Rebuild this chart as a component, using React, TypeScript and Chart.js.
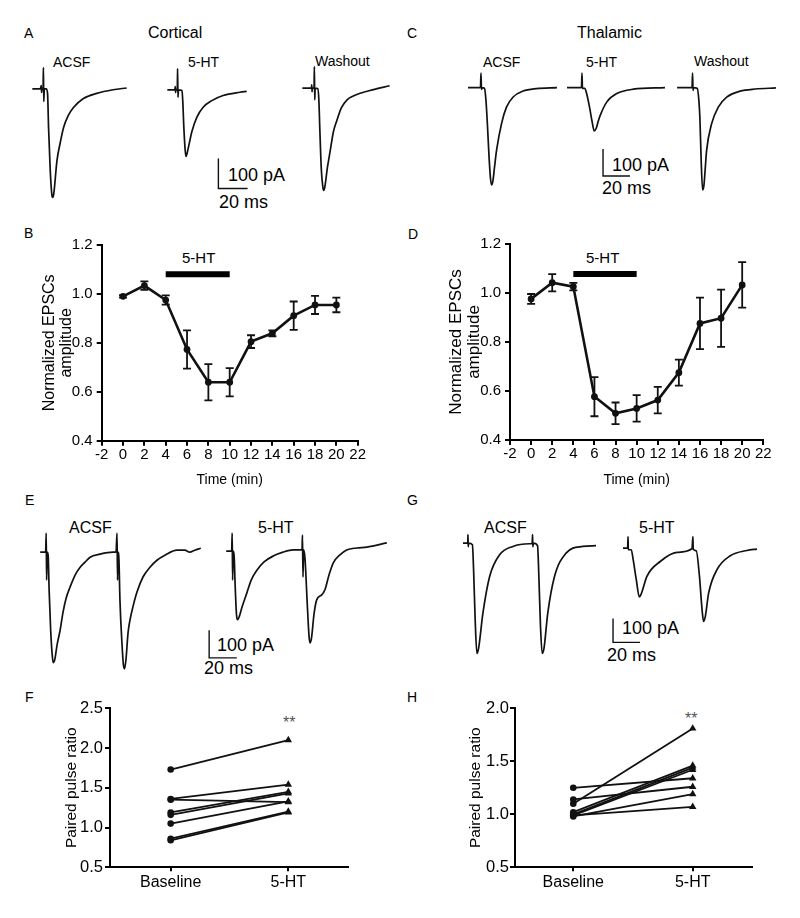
import React, { useEffect, useRef } from 'react';
import { Chart, registerables } from 'chart.js';

Chart.register(...registerables);
const FONT = "'Liberation Sans', Arial, Helvetica, sans-serif";
Chart.defaults.font.family = FONT;
Chart.defaults.color = '#000';

type P = [number, number];

// ---------------- DATA ----------------
// Example traces: [time (ms) from sweep start, current (pA) relative to baseline]
const corticalACSF: P[] = [[0,0],[5.52,0],[6.21,11],[6.41,-12],[6.62,0],[7.45,0],[7.66,71],[7.93,-42],[8.28,0],[9.66,0],[10.55,-16],[11.24,-129],[12.41,-272],[13.45,-349],[14.0,-361],[14.83,-349],[17.03,-239],[19.31,-179],[21.59,-129],[24.83,-89],[28.48,-62],[35.38,-32],[44.62,-15],[55.86,-3],[65.31,3]];
const cortical5HT: P[] = [[0,0],[5.17,0],[5.52,11],[5.72,-9],[5.93,0],[6.9,0],[7.1,71],[7.38,-25],[7.72,0],[10.14,-2],[10.69,-36],[11.38,-119],[12.28,-196],[12.9,-222],[13.66,-212],[15.17,-179],[17.03,-139],[20.48,-91],[24.83,-58],[30.83,-36],[38.62,-19],[50.34,-8],[54.97,-5]];
const corticalWashout: P[] = [[0,0],[6.21,0],[6.48,11],[6.69,-12],[6.9,0],[8.07,0],[8.28,72],[8.55,-39],[8.83,0],[10.69,-2],[11.38,-39],[12.07,-139],[13.1,-272],[14.14,-329],[14.69,-341],[15.52,-329],[17.24,-266],[19.31,-206],[21.38,-146],[23.93,-106],[26.9,-66],[30.83,-39],[35.17,-26],[40,-17],[48.28,-6],[60.21,8]];

const thalamicACSF: P[] = [[0,0],[9.26,0],[9.63,54],[10,-7],[10.37,0],[12.22,-3],[13.33,-47],[14.44,-140],[15.56,-251],[16.67,-336],[17.56,-362],[18.52,-347],[19.63,-299],[21.26,-232],[24.96,-133],[28.67,-72],[33.56,-35],[40.96,-13],[50.89,-4],[66.15,0]];
const thalamic5HT: P[] = [[0,0],[10.74,0],[11.11,54],[11.48,-3],[13.19,-3],[15.04,-32],[16.89,-77],[18.74,-129],[20.22,-161],[21.7,-151],[23.19,-125],[24.67,-103],[29.63,-53],[37.04,-22],[49.33,-6],[72.81,0]];
const thalamicWashout: P[] = [[0,0],[11.04,0],[11.41,54],[11.78,-10],[12.15,0],[14.96,-3],[16.07,-47],[16.81,-109],[17.78,-269],[18.81,-378],[19.78,-362],[20.67,-306],[21.78,-232],[25.48,-133],[30.37,-72],[36.59,-35],[46.44,-13],[57.56,-5],[72.89,-1]];

const corticalPairACSF: P[] = [[0,0],[2.9,0],[3.9,0],[4.3,68],[4.6,-100],[5.0,0],[5.7,-11],[6.4,-136],[7.5,-279],[8.6,-368],[9.3,-396],[10.4,-386],[12.1,-332],[14.3,-279],[16.4,-214],[18.6,-164],[21.4,-125],[25.0,-82],[28.6,-54],[32.1,-36],[35.7,-18],[42.9,-7],[52.1,0],[54.3,0],[55.0,68],[55.4,-100],[55.7,0],[56.4,-29],[57.1,-171],[58.6,-332],[59.6,-404],[60.4,-418],[61.4,-386],[62.9,-289],[64.3,-243],[66.4,-196],[69.3,-143],[73.6,-89],[78.6,-54],[83.6,-29],[89.3,-11],[97.9,7],[103.6,7],[107.1,0],[110.7,7],[115,14]];
const corticalPair5HT: P[] = [[0,0],[2.9,0],[3.9,0],[4.3,64],[4.6,-104],[5.0,0],[5.7,-18],[6.4,-121],[7.4,-229],[8.1,-246],[9.3,-236],[11.4,-200],[14.8,-150],[17.9,-104],[22.1,-68],[27.1,-39],[33.6,-18],[40.7,-4],[47.9,4],[54.3,4],[54.6,57],[55,-93],[55.4,4],[56.4,-25],[57.9,-175],[59.3,-304],[60,-329],[61.1,-311],[62.9,-225],[64.8,-175],[68.4,-157],[70.7,-139],[73.6,-86],[76.6,-43],[81.4,-14],[86.2,4],[93.6,11],[100.7,14],[115,29]];

const thalamicPairACSF: P[] = [[0,0],[2.8,0],[3.6,0],[3.75,35],[3.95,-15],[4.3,0],[7.1,-7],[8.0,-111],[9.2,-320],[10.5,-458],[11.8,-436],[15.0,-292],[20.1,-139],[27.6,-49],[37.6,-14],[50.2,-3],[52.2,0],[52.45,35],[52.65,-15],[53.2,0],[56.2,-11],[57.3,-153],[58.4,-340],[59.7,-458],[61.1,-436],[63.9,-292],[69.0,-139],[77.7,-42],[90.2,-14],[100.3,-11]];
const thalamicPair5HT: P[] = [[0,0],[3.5,0],[3.8,48],[4.0,-7],[6.2,-7],[7.7,-49],[10.0,-132],[12.3,-204],[13.8,-190],[18.0,-118],[28.0,-56],[40.6,-18],[51.9,-3],[52.6,48],[52.8,-3],[55.1,-11],[57.4,-111],[59.6,-265],[60.6,-306],[61.9,-286],[64.4,-188],[70.7,-90],[80.7,-32],[93.2,-10],[100.8,-4]];

// scale bar values
const SCALE_MS = 20;
const SCALE_PA = 100;
const scaleBar: P[] = [[0, SCALE_PA], [0, 0], [SCALE_MS, 0]];

// Time course (normalized EPSC amplitude)
const timeMin = [0, 2, 4, 6, 8, 10, 12, 14, 16, 18, 20];
const corticalMean = [0.99, 1.034, 0.975, 0.773, 0.639, 0.639, 0.805, 0.839, 0.911, 0.955, 0.955];
const corticalSem = [0.005, 0.017, 0.019, 0.078, 0.074, 0.058, 0.026, 0.012, 0.058, 0.037, 0.03];
const thalamicMean = [0.976, 1.042, 1.026, 0.577, 0.509, 0.529, 0.563, 0.675, 0.876, 0.897, 1.033];
const thalamicSem = [0.02, 0.035, 0.015, 0.08, 0.044, 0.054, 0.054, 0.053, 0.105, 0.117, 0.093];
const drugWindow = [4, 10];
const corticalDrugBar = 1.08;
const thalamicDrugBar = 1.078;
const timeAxis = { min: -2, max: 22, step: 2 };
const ampAxis = { min: 0.4, max: 1.2, step: 0.2 };

// Paired pulse ratio
const pprCategories = ['Baseline', '5-HT'];
const corticalPPRBaseline = [1.73, 1.36, 1.35, 1.19, 1.16, 1.05, 0.86, 0.84];
const corticalPPR5HT = [2.10, 1.54, 1.32, 1.45, 1.43, 1.33, 1.20, 1.19];
const thalamicPPRBaseline = [1.25, 1.14, 1.10, 1.02, 1.00, 0.99, 0.98, 0.99];
const thalamicPPR5HT = [1.34, 1.26, 1.81, 1.46, 1.44, 1.42, 1.19, 1.07];

// ---------------- COMPONENTS ----------------
const INK = '#111';

function TraceChart({ pts, ox, oy, sx, sy, lw = 1.7, smooth = true }: { pts: P[]; ox: number; oy: number; sx: number; sy: number; lw?: number; smooth?: boolean }) {
  const ref = useRef<HTMLCanvasElement>(null);
  const xs = pts.map((p) => p[0]);
  const ys = pts.map((p) => p[1]);
  const xMin = Math.min(...xs) - 3;
  const xMax = Math.max(...xs) + 3;
  const yMin = Math.min(...ys) - 15;
  const yMax = Math.max(...ys) + 15;
  const w = Math.round((xMax - xMin) * sx);
  const h = Math.round((yMax - yMin) * sy);
  const left = ox + xMin * sx;
  const top = oy - yMax * sy;
  useEffect(() => {
    const chart = new Chart(ref.current as HTMLCanvasElement, {
      type: 'scatter',
      data: {
        datasets: [
          {
            data: pts.map(([x, y]) => ({ x, y })),
            showLine: true,
            borderColor: INK,
            borderWidth: lw,
            pointRadius: 0,
            cubicInterpolationMode: smooth ? 'monotone' : 'default',
            tension: 0,
            clip: false as any,
          } as any,
        ],
      },
      options: {
        animation: false,
        responsive: false,
        events: [],
        layout: { padding: 0 },
        plugins: { legend: { display: false }, tooltip: { enabled: false } },
        scales: {
          x: { type: 'linear', display: false, min: xMin, max: xMax },
          y: { type: 'linear', display: false, min: yMin, max: yMax },
        },
      },
    });
    return () => chart.destroy();
  }, []);
  return <canvas ref={ref} width={w} height={h} style={{ position: 'absolute', left, top, width: w, height: h }} />;
}

type Rect = { left: number; top: number; width: number; height: number };
type Area = { left: number; top: number; right: number; bottom: number };

const axisGrid = (tickLength: number) => ({
  display: true,
  drawOnChartArea: false,
  drawTicks: true,
  tickLength,
  color: '#000',
  lineWidth: 2,
});
const axisBorder = { display: true, color: '#000', width: 2 };

function TimeCourseChart({ cv, area, titleLeft, xAxisH, means, sems, barLevel, yTitleSize }: { cv: Rect; area: Area; titleLeft: number; xAxisH: number; means: number[]; sems: number[]; barLevel: number; yTitleSize: number }) {
  const ref = useRef<HTMLCanvasElement>(null);
  useEffect(() => {
    const padding = {
      left: titleLeft - cv.left,
      top: area.top - cv.top,
      right: cv.left + cv.width - area.right,
      bottom: cv.top + cv.height - area.bottom - xAxisH,
    };
    const yW = area.left - titleLeft;
    const errorBars = {
      id: 'errorBars',
      afterDatasetsDraw(chart: any) {
        const xs = chart.scales.x;
        const ys = chart.scales.y;
        const ctx = chart.ctx as CanvasRenderingContext2D;
        ctx.save();
        ctx.strokeStyle = INK;
        ctx.lineWidth = 1.8;
        timeMin.forEach((t, i) => {
          const x = xs.getPixelForValue(t);
          const y1 = ys.getPixelForValue(means[i] + sems[i]);
          const y2 = ys.getPixelForValue(means[i] - sems[i]);
          ctx.beginPath();
          ctx.moveTo(x, y1);
          ctx.lineTo(x, y2);
          ctx.moveTo(x - 4, y1);
          ctx.lineTo(x + 4, y1);
          ctx.moveTo(x - 4, y2);
          ctx.lineTo(x + 4, y2);
          ctx.stroke();
        });
        ctx.restore();
      },
    };
    const chart = new Chart(ref.current as HTMLCanvasElement, {
      type: 'scatter',
      data: {
        datasets: [
          {
            data: timeMin.map((t, i) => ({ x: t, y: means[i] })),
            showLine: true,
            borderColor: INK,
            backgroundColor: INK,
            borderWidth: 2.6,
            pointRadius: 3.4,
            pointBorderWidth: 0,
            pointBackgroundColor: INK,
          },
          {
            data: drugWindow.map((t) => ({ x: t, y: barLevel })),
            showLine: true,
            borderColor: '#000',
            borderWidth: 6,
            pointRadius: 0,
            borderCapStyle: 'butt',
          } as any,
        ],
      },
      options: {
        animation: false,
        responsive: false,
        events: [],
        layout: { padding },
        plugins: { legend: { display: false }, tooltip: { enabled: false } },
        scales: {
          x: {
            type: 'linear',
            min: timeAxis.min,
            max: timeAxis.max,
            ticks: { stepSize: timeAxis.step, font: { size: 15 }, color: '#000', padding: 0, maxRotation: 0, autoSkip: false, callback: (v: any) => String(v) },
            grid: axisGrid(5) as any,
            border: axisBorder,
            title: { display: true, text: 'Time (min)', font: { size: 14 }, color: '#000', padding: { top: 0, bottom: 0 } },
            afterFit: (s: any) => { s.height = xAxisH; },
          },
          y: {
            type: 'linear',
            min: ampAxis.min,
            max: ampAxis.max,
            ticks: { stepSize: ampAxis.step, font: { size: 15 }, color: '#000', padding: 4, callback: (v: any) => Number(v).toFixed(1) },
            grid: axisGrid(5) as any,
            border: axisBorder,
            title: { display: true, text: ['Normalized EPSCs', 'amplitude'], font: { size: yTitleSize, lineHeight: 1.08 }, color: '#000', padding: { top: 0, bottom: 0 } },
            afterFit: (s: any) => { s.width = yW; },
          },
        },
      },
      plugins: [errorBars],
    });
    return () => chart.destroy();
  }, []);
  return <canvas ref={ref} width={cv.width} height={cv.height} style={{ position: 'absolute', left: cv.left, top: cv.top, width: cv.width, height: cv.height }} />;
}

function PPRChart({ cv, area, titleLeft, xAxisH, base, drug, yMax, xMin, xMax, yTickPad }: { cv: Rect; area: Area; titleLeft: number; xAxisH: number; base: number[]; drug: number[]; yMax: number; xMin: number; xMax: number; yTickPad: number }) {
  const ref = useRef<HTMLCanvasElement>(null);
  useEffect(() => {
    const padding = {
      left: titleLeft - cv.left,
      top: area.top - cv.top,
      right: cv.left + cv.width - area.right,
      bottom: cv.top + cv.height - area.bottom - xAxisH,
    };
    const yW = area.left - titleLeft;
    const chart = new Chart(ref.current as HTMLCanvasElement, {
      type: 'scatter',
      data: {
        datasets: base.map((b, i) => ({
          data: [{ x: 0, y: b }, { x: 1, y: drug[i] }],
          showLine: true,
          borderColor: INK,
          borderWidth: 1.8,
          pointStyle: ['circle', 'triangle'] as any,
          pointRadius: [3.3, 4.3] as any,
          pointBorderWidth: 0,
          pointBackgroundColor: INK,
          clip: false as any,
        })) as any,
      },
      options: {
        animation: false,
        responsive: false,
        events: [],
        layout: { padding },
        plugins: { legend: { display: false }, tooltip: { enabled: false } },
        scales: {
          x: {
            type: 'linear',
            min: xMin,
            max: xMax,
            afterBuildTicks: (s: any) => { s.ticks = [{ value: 0 }, { value: 1 }]; },
            ticks: { font: { size: 16 }, color: '#000', padding: 2, maxRotation: 0, autoSkip: false, callback: (v: any) => pprCategories[Math.round(Number(v))] ?? '' },
            grid: axisGrid(4) as any,
            border: axisBorder,
            afterFit: (s: any) => { s.height = xAxisH; },
          },
          y: {
            type: 'linear',
            min: 0.5,
            max: yMax,
            ticks: { stepSize: 0.5, font: { size: 16.5 }, color: '#000', padding: yTickPad, callback: (v: any) => Number(v).toFixed(1) },
            grid: axisGrid(5) as any,
            border: axisBorder,
            title: { display: true, text: 'Paired pulse ratio', font: { size: 15.5 }, color: '#000', padding: { top: 0, bottom: 0 } },
            afterFit: (s: any) => { s.width = yW; },
          },
        },
      },
    });
    return () => chart.destroy();
  }, []);
  return <canvas ref={ref} width={cv.width} height={cv.height} style={{ position: 'absolute', left: cv.left, top: cv.top, width: cv.width, height: cv.height }} />;
}

type Lbl = { t: string; x: number; y: number; s: number; c?: string };
const labels: Lbl[] = [
  { t: 'A', x: 24, y: 26, s: 14 },
  { t: 'Cortical', x: 148, y: 25, s: 16 },
  { t: 'ACSF', x: 53, y: 55, s: 14 },
  { t: '5-HT', x: 188, y: 55, s: 14 },
  { t: 'Washout', x: 315, y: 54, s: 14 },
  { t: '100 pA', x: 228, y: 166, s: 18 },
  { t: '20 ms', x: 219, y: 192.7, s: 18 },
  { t: 'C', x: 407, y: 26, s: 14 },
  { t: 'Thalamic', x: 577, y: 25, s: 16 },
  { t: 'ACSF', x: 483, y: 55, s: 14 },
  { t: '5-HT', x: 586, y: 55, s: 14 },
  { t: 'Washout', x: 694, y: 54, s: 14 },
  { t: '100 pA', x: 612, y: 156, s: 18 },
  { t: '20 ms', x: 602, y: 179.4, s: 18 },
  { t: 'B', x: 24, y: 226, s: 14 },
  { t: '5-HT', x: 182, y: 249.7, s: 15 },
  { t: 'D', x: 408, y: 227, s: 14 },
  { t: '5-HT', x: 586, y: 249.7, s: 15 },
  { t: 'E', x: 25, y: 493, s: 14 },
  { t: 'ACSF', x: 69, y: 520, s: 16 },
  { t: '5-HT', x: 258, y: 520, s: 16 },
  { t: '100 pA', x: 217, y: 636, s: 18 },
  { t: '20 ms', x: 204, y: 659.4, s: 18 },
  { t: 'G', x: 407, y: 493, s: 14 },
  { t: 'ACSF', x: 484, y: 520, s: 16 },
  { t: '5-HT', x: 639, y: 520, s: 16 },
  { t: '100 pA', x: 622, y: 619.4, s: 18 },
  { t: '20 ms', x: 607, y: 646, s: 18 },
  { t: 'F', x: 25, y: 690, s: 14 },
  { t: 'H', x: 407, y: 690, s: 14 },
  { t: '**', x: 283, y: 715, s: 16, c: '#555' },
  { t: '**', x: 685, y: 711, s: 16, c: '#555' },
];

export default function App() {
  return (
    <div style={{ position: 'absolute', left: 0, top: 0, width: 800, height: 918, background: '#fff', overflow: 'hidden', fontFamily: FONT }}>
      {labels.map((l, i) => (
        <div key={i} style={{ position: 'absolute', left: l.x, top: l.y, fontSize: l.s, lineHeight: `${l.s}px`, whiteSpace: 'nowrap', color: l.c ?? '#000' }}>{l.t}</div>
      ))}

      {/* A: cortical EPSCs */}
      <TraceChart pts={corticalACSF} ox={32} oy={88.3} sx={1.45} sy={0.3} />
      <TraceChart pts={cortical5HT} ox={167} oy={89.3} sx={1.45} sy={0.3} />
      <TraceChart pts={corticalWashout} ox={302} oy={88.3} sx={1.45} sy={0.3} />
      <TraceChart pts={scaleBar} ox={218} oy={188} sx={1.45} sy={0.3} lw={1.4} smooth={false} />

      {/* C: thalamic EPSCs */}
      <TraceChart pts={thalamicACSF} ox={468} oy={87.3} sx={1.35} sy={0.27} />
      <TraceChart pts={thalamic5HT} ox={566.7} oy={87.3} sx={1.35} sy={0.27} />
      <TraceChart pts={thalamicWashout} ox={677.3} oy={87.3} sx={1.35} sy={0.27} />
      <TraceChart pts={scaleBar} ox={603} oy={176} sx={1.35} sy={0.27} lw={1.4} smooth={false} />

      {/* B, D: time course */}
      <TimeCourseChart cv={{ left: 0, top: 220, width: 400, height: 270 }} area={{ left: 101.7, top: 245, right: 357.7, bottom: 440.7 }} titleLeft={40.7} xAxisH={47.7} means={corticalMean} sems={corticalSem} barLevel={corticalDrugBar} yTitleSize={16} />
      <TimeCourseChart cv={{ left: 400, top: 220, width: 400, height: 270 }} area={{ left: 510, top: 244, right: 763.3, bottom: 440 }} titleLeft={446.9} xAxisH={48.4} means={thalamicMean} sems={thalamicSem} barLevel={thalamicDrugBar} yTitleSize={17} />

      {/* E: cortical paired pulses */}
      <TraceChart pts={corticalPairACSF} ox={40} oy={552} sx={1.4} sy={0.28} />
      <TraceChart pts={corticalPair5HT} ox={226} oy={551} sx={1.4} sy={0.28} />
      <TraceChart pts={scaleBar} ox={209.3} oy={658.3} sx={1.4} sy={0.28} lw={1.4} smooth={false} />

      {/* G: thalamic paired pulses */}
      <TraceChart pts={thalamicPairACSF} ox={463.3} oy={543.3} sx={1.33} sy={0.24} />
      <TraceChart pts={thalamicPair5HT} ox={622.7} oy={548.3} sx={1.33} sy={0.24} />
      <TraceChart pts={scaleBar} ox={613} oy={643} sx={1.33} sy={0.24} lw={1.4} smooth={false} />

      {/* F, H: paired pulse ratio */}
      <PPRChart cv={{ left: 0, top: 690, width: 400, height: 228 }} area={{ left: 110, top: 708.3, right: 348.3, bottom: 867.3 }} titleLeft={62.5} xAxisH={30} base={corticalPPRBaseline} drug={corticalPPR5HT} yMax={2.5} xMin={-0.516} xMax={1.51} yTickPad={2} />
      <PPRChart cv={{ left: 400, top: 690, width: 400, height: 228 }} area={{ left: 515, top: 708.3, right: 751.7, bottom: 867.3 }} titleLeft={466} xAxisH={30} base={thalamicPPRBaseline} drug={thalamicPPR5HT} yMax={2.0} xMin={-0.488} xMax={1.494} yTickPad={1} />
    </div>
  );
}
